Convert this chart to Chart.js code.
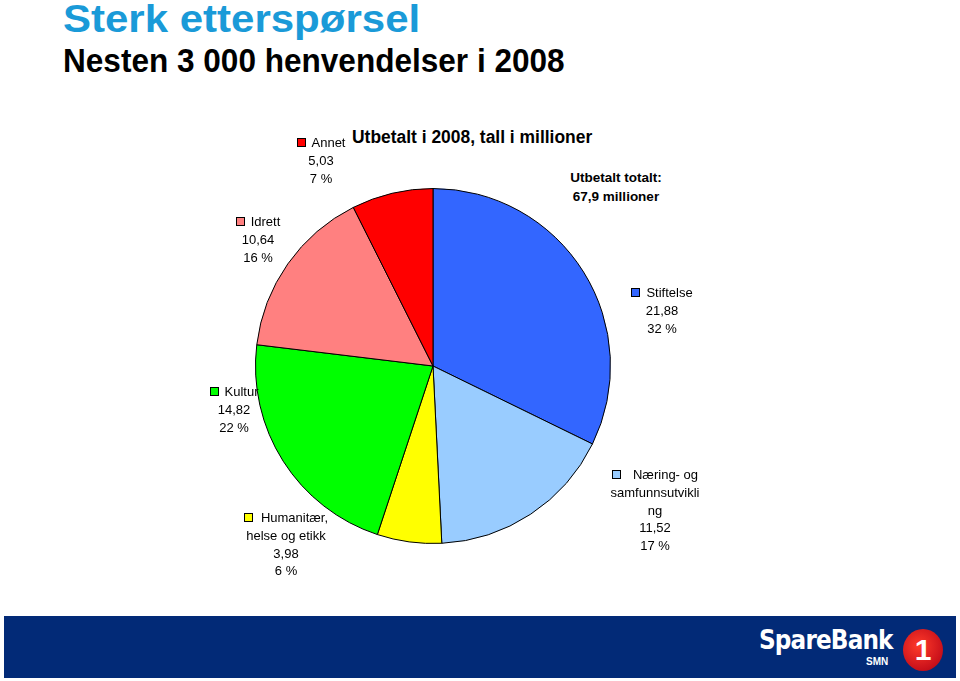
<!DOCTYPE html>
<html>
<head>
<meta charset="utf-8">
<script src="https://cdn.jsdelivr.net/npm/chart.js@4.4.0/dist/chart.umd.min.js"></script>
<style>
  body { margin: 0; background: #fff; font-family: "Liberation Sans", Arial, sans-serif; }
  #wrap { position: relative; width: 960px; height: 681px; overflow: hidden; }
  #pie { position: absolute; left: 0; top: 0; }
  .t1 { position: absolute; left: 63px; top: -2px; font-size: 38px; font-weight: bold; color: #1a9ad8; white-space: nowrap; transform-origin: 0 0; }
  .t2 { position: absolute; left: 63px; top: 42px; font-size: 33px; font-weight: bold; color: #000; white-space: nowrap; transform-origin: 0 0; }
  .ct { position: absolute; left: 352px; top: 127px; font-size: 17.5px; font-weight: bold; white-space: nowrap; transform-origin: 0 0; }
  .tot { position: absolute; left: 560px; top: 168px; width: 112px; text-align: center; font-size: 13.5px; font-weight: bold; line-height: 19px; }
  .lbl { position: absolute; font-size: 13px; line-height: 17.8px; text-align: center; white-space: nowrap; }
  .sq { display: inline-block; width: 7px; height: 7px; border: 1px solid #000; margin-right: 6px; vertical-align: 0px; }
  #band { position: absolute; left: 4px; top: 616px; width: 952px; height: 62px; background: #022a77; }
  .sb { position: absolute; left: 759px; top: 624px; color: #fff; font-size: 27px; font-weight: bold; letter-spacing: -1px; font-family: "DejaVu Sans", sans-serif; transform-origin: 0 0; }
  .smn { position: absolute; left: 866px; top: 656px; color: #fff; font-size: 10px; font-weight: bold; }
  .one { position: absolute; left: 903px; top: 629px; width: 40px; height: 42px; border-radius: 50%; background: radial-gradient(circle at 40% 40%, #ff3b2a, #c8101a 70%, #8a0a10); color: #fff; font-size: 30px; font-weight: bold; text-align: center; line-height: 42px; }
</style>
</head>
<body>
<div id="wrap">
  <div class="t1" id="t1">Sterk etterspørsel</div>
  <div class="t2" id="t2">Nesten 3 000 henvendelser i 2008</div>
  <div class="ct" id="ct">Utbetalt i 2008, tall i millioner</div>
  <div class="tot">Utbetalt totalt:<br>67,9 millioner</div>
  <canvas id="pie" width="960" height="681"></canvas>
  <div id="band"></div>
  <div class="sb" id="sb">SpareBank</div>
  <div class="smn">SMN</div>
  <div class="one">1</div>
</div>
<script>
var categories = ['Stiftelse', 'Næring- og samfunnsutvikling', 'Humanitær, helse og etikk', 'Kultur', 'Idrett', 'Annet'];
var labelLines = [['Stiftelse'], ['Næring- og', 'samfunnsutvikli', 'ng'], ['Humanitær,', 'helse og etikk'], ['Kultur'], ['Idrett'], ['Annet']];
var values = [21.88, 11.52, 3.98, 14.82, 10.64, 5.03];
var colors = ['#3366ff', '#99ccff', '#ffff00', '#00ff00', '#ff8080', '#ff0000'];

// label box positions (left, top, width) and gap after the colour square
var labelPos = [
  [630, 284, 64, 6],
  [596, 466, 118, 12],
  [230, 509, 112, 8],
  [208, 383, 52, 6],
  [232, 213, 52, 6],
  [294, 134, 54, 6]
];

var total = values.reduce(function (a, b) { return a + b; }, 0);
var wrap = document.getElementById('wrap');
values.forEach(function (v, i) {
  var d = document.createElement('div');
  d.className = 'lbl';
  d.style.left = labelPos[i][0] + 'px';
  d.style.top = labelPos[i][1] + 'px';
  d.style.width = labelPos[i][2] + 'px';
  var lines = labelLines[i];
  var html = '<span class="sq" style="background:' + colors[i] + ';margin-right:' + labelPos[i][3] + 'px"></span>' + lines[0];
  for (var k = 1; k < lines.length; k++) html += '<br>' + lines[k];
  html += '<br>' + v.toFixed(2).replace('.', ',');
  html += '<br>' + Math.round(v / total * 100) + ' %';
  d.innerHTML = html;
  wrap.appendChild(d);
});

// fit titles to the width in the picture
function fit(id, w) {
  var el = document.getElementById(id);
  el.style.transform = 'scaleX(' + (w / el.offsetWidth) + ')';
}
fit('t1', 357);
fit('t2', 502);
fit('ct', 240);
fit('sb', 134);

var ctx = document.getElementById('pie');
new Chart(ctx, {
  type: 'pie',
  data: {
    labels: categories,
    datasets: [{
      data: values,
      backgroundColor: colors,
      borderColor: '#000',
      borderWidth: 1
    }]
  },
  options: {
    responsive: false,
    animation: false,
    layout: { padding: { left: 255, right: 349, top: 188, bottom: 137 } },
    plugins: {
      legend: { display: false },
      tooltip: { enabled: false }
    }
  }
});
</script>
</body>
</html>
